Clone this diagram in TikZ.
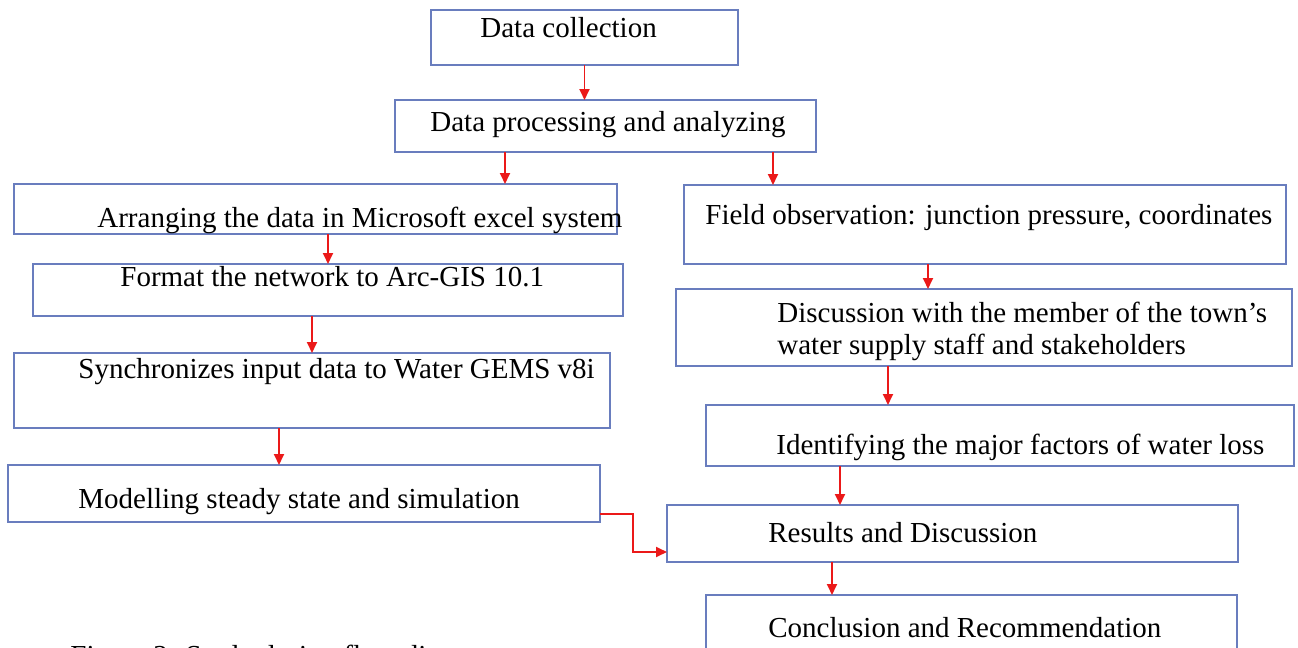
\documentclass[tikz,border=0pt]{standalone}
\usepackage{fontspec}
\setmainfont{Liberation Serif}
\usetikzlibrary{arrows.meta}
\definecolor{boxblue}{RGB}{105,125,190}
\definecolor{arrowred}{RGB}{235,25,25}
\tikzset{
    stepbox/.style = {
        rectangle,
        draw=boxblue,
        line width=0.9pt,
        inner sep=0pt,
        outer sep=0pt
    },
    steptext/.style = {
        anchor=base west,
        inner sep=0pt,
        font=\fontsize{14.5}{17.5}\selectfont
    },
    flowarrow/.style = {
        draw=arrowred,
        line width=0.9pt,
        -{Triangle[length=5.5pt,width=5pt]}
    }
}
\begin{document}
\begin{tikzpicture}[x=0.5pt,y=-0.5pt]
    \clip (0,0) rectangle (1298,648);
    \fill[white] (0,0) rectangle (1298,648);

    % boxes
    \node[stepbox, minimum width=153.5pt, minimum height=27.5pt] (collect) at (584.5,37.5) {};
    \node[stepbox, minimum width=210.5pt, minimum height=26pt] (process) at (605.5,126) {};
    \node[stepbox, minimum width=301.5pt, minimum height=25pt] (excel) at (315.5,209) {};
    \node[stepbox, minimum width=295pt, minimum height=26pt] (arcgis) at (328,290) {};
    \node[stepbox, minimum width=298pt, minimum height=37.5pt] (sync) at (312,390.5) {};
    \node[stepbox, minimum width=296pt, minimum height=28.5pt] (model) at (304,493.5) {};
    \node[stepbox, minimum width=301pt, minimum height=39.5pt] (field) at (985,224.5) {};
    \node[stepbox, minimum width=308pt, minimum height=38.5pt] (discuss) at (984,327.5) {};
    \node[stepbox, minimum width=294pt, minimum height=30.5pt] (factors) at (1000,435.5) {};
    \node[stepbox, minimum width=285.5pt, minimum height=28.5pt] (results) at (952.5,533.5) {};
    \node[stepbox, minimum width=265.5pt, minimum height=32.5pt] (conclude) at (971.5,627.5) {};

    % texts
    \node[steptext] (collect-t) at (480,38) {Data collection};
    \node[steptext] (process-t) at (430,131) {Data processing and analyzing};
    \node[steptext] (excel-t) at (97,227) {Arranging the data in Microsoft excel system};
    \node[steptext] (arcgis-t) at (120,286) {Format the network to Arc-GIS 10.1};
    \node[steptext] (sync-t) at (78,378) {Synchronizes input data to Water GEMS v8i};
    \node[steptext] (model-t) at (78,508) {Modelling steady state and simulation};
    \node[steptext] (field-t) at (705,224) {Field observation: junction pressure, coordinates};
    \node[steptext] (discuss-t1) at (777,322) {Discussion with the member of the town's};
    \node[steptext] (discuss-t2) at (777,354) {water supply staff and stakeholders};
    \node[steptext] (factors-t) at (776,454) {Identifying the major factors of water loss};
    \node[steptext] (results-t) at (768,542) {Results and Discussion};
    \node[steptext] (conclude-t) at (768,637) {Conclusion and Recommendation};
    \node[steptext] (caption) at (70,665) {Figure 2: Study design flow diagram};

    % arrows
    \draw[flowarrow] (collect.south) -- (collect.south |- process.north);
    \draw[flowarrow] ([xshift=-50.25pt]process.south) -- ([xshift=-50.25pt]process.south |- excel.north);
    \draw[flowarrow] ([xshift=83.75pt]process.south) -- ([xshift=83.75pt]process.south |- field.north);
    \draw[flowarrow] (excel.south -| arcgis.north) -- (arcgis.north);
    \draw[flowarrow] (arcgis.south -| sync.north) -- (sync.north);
    \draw[flowarrow] ([xshift=-12.5pt]model.north |- sync.south) -- ([xshift=-12.5pt]model.north);
    \draw[flowarrow] ([xshift=-28.5pt]field.south) -- ([xshift=-28.5pt]field.south |- discuss.north);
    \draw[flowarrow] ([xshift=-56pt]factors.north |- discuss.south) -- ([xshift=-56pt]factors.north);
    \draw[flowarrow] ([xshift=-80pt]factors.south) -- ([xshift=-80pt]factors.south |- results.north);
    \draw[flowarrow] ([xshift=-60.25pt]results.south) -- ([xshift=-60.25pt]results.south |- conclude.north);
    \draw[flowarrow] ([yshift=-10.25pt]model.east) -- ++(33,0) |- ([yshift=-9.25pt]results.west);
\end{tikzpicture}
\end{document}
